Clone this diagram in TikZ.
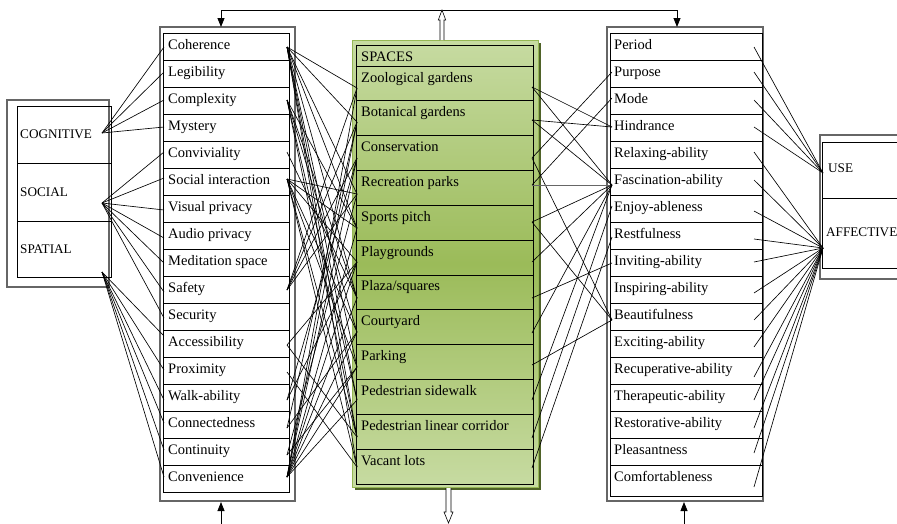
\documentclass[tikz,border=0pt]{standalone}
\usepackage{fontspec}
\setmainfont{Liberation Serif}
\usetikzlibrary{arrows.meta}
\definecolor{gtop}{RGB}{199,219,162}
\definecolor{gmid}{RGB}{155,187,89}
\definecolor{gborder}{RGB}{150,184,84}
\definecolor{gshadow}{RGB}{79,98,40}
\begin{document}
\begin{tikzpicture}[x=1pt,y=-1pt,
  lbl/.style={anchor=base west, inner sep=0pt, font=\fontsize{14.5}{17}\selectfont},
  cat/.style={anchor=base west, inner sep=0pt, font=\fontsize{13.2}{16}\selectfont},
  conn/.style={line width=0.65pt, black},
  outerbox/.style={draw=black!60, line width=1.1pt},
  innerbox/.style={draw=black, line width=0.9pt},
  arr/.style={-{Triangle[length=9pt,width=7pt]}, line width=0.8pt},
  hollow/.style={draw=black, fill=white, line width=0.6pt}
]
\useasboundingbox (0,0) rectangle (897,523);
\clip (0,0) rectangle (897,523);

% ---------- left category box ----------
\draw[outerbox] (7,100) rectangle (109,287);
\draw[innerbox] (17,106) rectangle (111,277);
\draw[innerbox] (17,163) -- (111,163);
\draw[innerbox] (17,221) -- (111,221);
\node[cat] (cog) at (20,138) {COGNITIVE};
\node[cat] (soc) at (20,196) {SOCIAL};
\node[cat] (spa) at (20,253) {SPATIAL};
\coordinate (pCog) at (102,133);
\coordinate (pSoc) at (102,203);
\coordinate (pSpa) at (102,272);

% ---------- left list ----------
\draw[outerbox] (160,27) rectangle (295,501);
\draw[innerbox] (163,33) rectangle (289,492);
\foreach \i in {1,...,16} \draw[innerbox] (163,{33+27*\i}) -- (289,{33+27*\i});
\foreach \t [count=\i] in {Coherence,Legibility,Complexity,Mystery,Conviviality,Social interaction,Visual privacy,Audio privacy,Meditation space,Safety,Security,Accessibility,Proximity,Walk-ability,Connectedness,Continuity,Convenience}
  \node[lbl] (L\i) at (168,{33+27*(\i-1)+16.5}) {\t};
\foreach \y [count=\i] in {47,72,100,127,152,178,210,238,263,292,318,336,370,400,423,450,477}
  \coordinate (La\i) at (164,\y);
\foreach \y [count=\i] in {47,73,100,127,152,179,208,235,262,290,317,345,372,400,428,455,477}
  \coordinate (Lb\i) at (287,\y);

% ---------- middle SPACES box ----------
\fill[gshadow] (355,43) rectangle (541,490);
\draw[gborder, line width=1pt, top color=gtop, bottom color=gtop, middle color=gmid] (352,40) rectangle (538,487);
\draw[innerbox] (356,45) rectangle (533,484);
\draw[innerbox] (356,66) -- (533,66);
\foreach \j in {1,...,11} \draw[innerbox] (356,{66+34.83*\j}) -- (533,{66+34.83*\j});
\node[lbl] (spaces) at (361,61) {SPACES};
\foreach \t [count=\j] in {Zoological gardens,Botanical gardens,Conservation,Recreation parks,Sports pitch,Playgrounds,Plaza/squares,Courtyard,Parking,Pedestrian sidewalk,Pedestrian linear corridor,Vacant lots}
  \node[lbl] (M\j) at (361,{66+34.83*(\j-1)+16}) {\t};
\foreach \y [count=\j] in {88,122,158,194,228,262,298,332,367,400,437,467}
  \coordinate (Ma\j) at (357,\y);
\foreach \y [count=\j] in {87,120,158,185,222,262,298,333,365,400,438,468}
  \coordinate (Mb\j) at (532,\y);

% ---------- right list ----------
\draw[outerbox] (607,27) rectangle (763,501);
\draw[innerbox] (610,33) rectangle (762,496);
\foreach \i in {1,...,16} \draw[innerbox] (610,{33+27*\i}) -- (762,{33+27*\i});
\foreach \t [count=\k] in {Period,Purpose,Mode,Hindrance,Relaxing-ability,Fascination-ability,Enjoy-ableness,Restfulness,Inviting-ability,Inspiring-ability,Beautifulness,Exciting-ability,Recuperative-ability,Therapeutic-ability,Restorative-ability,Pleasantness,Comfortableness}
  \node[lbl] (R\k) at (614,{33+27*(\k-1)+16.5}) {\t};
\foreach \y [count=\k] in {47,72,98,127,152,185,206,237,263,290,320,345,372,400,428,453,480}
  \coordinate (Ra\k) at (612,\y);
\foreach \y [count=\k] in {47,72,100,127,152,180,211,239,262,293,320,347,377,400,428,453,487}
  \coordinate (Rb\k) at (754,\y);

% ---------- right category box ----------
\draw[outerbox] (820,135) rectangle (910,279);
\draw[innerbox] (822,142) rectangle (910,268);
\draw[innerbox] (822,198) -- (910,198);
\node[cat] (use) at (828,172) {USE};
\node[cat] (aff) at (826,236) {AFFECTIVE};
\coordinate (pUse) at (823,173);
\coordinate (pAff) at (823,248);

% ---------- category connectors ----------
\foreach \i in {1,...,4} \draw[conn] (pCog) -- (La\i);
\foreach \i in {5,...,11} \draw[conn] (pSoc) -- (La\i);
\foreach \i in {12,...,17} \draw[conn] (pSpa) -- (La\i);
\foreach \k in {1,...,4} \draw[conn] (Rb\k) -- (pUse);
\foreach \k in {5,...,17} \draw[conn] (Rb\k) -- (pAff);

% ---------- left list -> spaces ----------
\foreach \j in {1,2,4,5,7,9,10,11,12} \draw[conn] (Lb1) -- (Ma\j);
\foreach \j in {5,7,8,10,11} \draw[conn] (Lb3) -- (Ma\j);
\foreach \j in {7} \draw[conn] (Lb5) -- (Ma\j);
\foreach \j in {4,5,6,8,9,11,12} \draw[conn] (Lb6) -- (Ma\j);
\foreach \j in {1,2,3,4} \draw[conn] (Lb10) -- (Ma\j);
\foreach \j in {6,11} \draw[conn] (Lb12) -- (Ma\j);
\foreach \j in {12} \draw[conn] (Lb13) -- (Ma\j);
\foreach \j in {3,6} \draw[conn] (Lb14) -- (Ma\j);
\foreach \j in {2,8} \draw[conn] (Lb15) -- (Ma\j);
\foreach \j in {4,9} \draw[conn] (Lb16) -- (Ma\j);
\foreach \j in {1,2,3,5,6,7,8,9,10} \draw[conn] (Lb17) -- (Ma\j);

% ---------- spaces -> right list ----------
\draw[conn] (Mb1) -- (Ra4);
\draw[conn] (Mb1) -- (Ra6);
\draw[conn] (Mb2) -- (Ra4);
\draw[conn] (Mb2) -- (Ra6);
\draw[conn] (Mb3) -- (Ra2);
\draw[conn] (Mb3) -- (Ra11);
\draw[conn] (Mb4) -- (Ra3);
\draw[black!60, line width=1pt] (Mb4) -- (Ra6);
\draw[conn] (Mb5) -- (Ra6);
\draw[conn] (Mb5) -- (Ra11);
\draw[conn] (Mb6) -- (Ra6);
\draw[conn] (Mb7) -- (Ra9);
\draw[conn] (Mb8) -- (Ra6);
\draw[conn] (Mb9) -- (Ra11);
\draw[conn] (Mb10) -- (Ra6);
\draw[conn] (Mb11) -- (Ra7);
\draw[conn] (Mb12) -- (Ra8);

% ---------- feedback arrows ----------
\coordinate (tl) at (221,10);
\coordinate (tr) at (677,10);
\coordinate (tlb) at (221,27);
\coordinate (trb) at (677,27);
\draw[line width=0.8pt] (tl) -- (tr);
\draw[arr] (tl) -- (tlb);
\draw[arr] (tr) -- (trb);
\coordinate (bl0) at (221,526);
\coordinate (bl1) at (221,502);
\coordinate (br0) at (684,526);
\coordinate (br1) at (684,502);
\draw[arr] (bl0) -- (bl1);
\draw[arr] (br0) -- (br1);

% hollow arrows of the SPACES box
\draw[hollow] (440,40) -- (440,20) -- (438.3,20) -- (442,10) -- (445.7,20) -- (444,20) -- (444,40);
\draw[hollow] (446,488) -- (446,512) -- (444,512) -- (448.5,523) -- (453,512) -- (451,512) -- (451,488);
\end{tikzpicture}
\end{document}
